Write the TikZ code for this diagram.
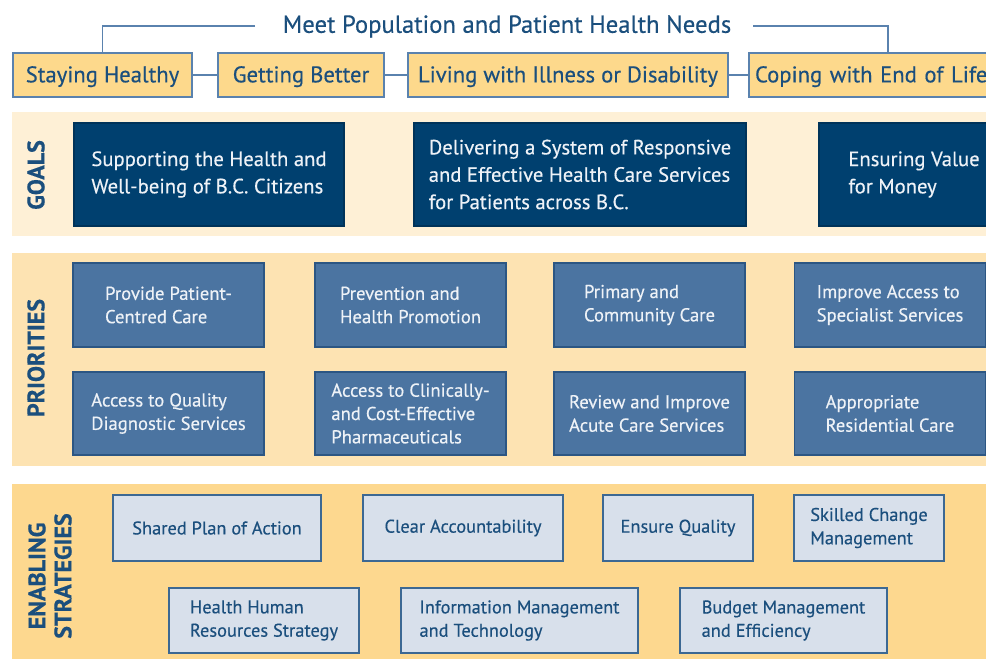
\documentclass[tikz,border=0pt]{standalone}
\usepackage{fontspec}
\setmainfont{PT Sans}[FakeBold=0.35]
\definecolor{tblue}{HTML}{1B4F7D}
\definecolor{topfill}{HTML}{FDD98C}
\definecolor{topdraw}{HTML}{5A82AE}
\definecolor{goalband}{HTML}{FEF0D6}
\definecolor{goalbox}{HTML}{00406F}
\definecolor{prioband}{HTML}{FDE3B2}
\definecolor{priobox}{HTML}{4B74A1}
\definecolor{priodraw}{HTML}{2C5683}
\definecolor{enband}{HTML}{FDD88F}
\definecolor{enbox}{HTML}{D8E0EB}
\definecolor{endraw}{HTML}{3C6893}
\definecolor{ltext}{HTML}{EEF2F7}
\tikzset{
  sz/.style 2 args={minimum width=#1*0.75pt, minimum height=#2*0.75pt, inner sep=0pt},
  topbox/.style={draw=topdraw, fill=topfill, line width=1.2pt, text=tblue, text height=14pt, text depth=3pt, font=\fontsize{17}{20}\selectfont},
  goalbx/.style={fill=goalbox, draw=goalbox!80!black, line width=0.8pt, text=ltext, align=left, font=\fontsize{15.5}{20.5}\selectfont},
  priobx/.style={fill=priobox, draw=priodraw, line width=1pt, text=ltext, align=left, font=\fontsize{14}{17.5}\selectfont},
  enbx/.style={fill=enbox, draw=endraw, line width=1.1pt, text=tblue, align=left, font=\fontsize{13.8}{17.5}\selectfont},
  sidelbl/.style={rotate=90, text=tblue, font=\bfseries\fontsize{18}{19.5}\selectfont, align=center},
  conn/.style={draw=topdraw, line width=1.2pt}
}
\begin{document}
\begin{tikzpicture}[x=0.75pt, y=-0.75pt]
\useasboundingbox (0,0) rectangle (986,659);
\clip (0,0) rectangle (986,659);
\fill[white] (0,0) rectangle (986,659);
% title
\node[text=tblue, font=\fontsize{18.5}{20}\selectfont] (title) at (507,26.5) {Meet Population and Patient Health Needs};
% top boxes
\node[topbox, sz={179}{44}] (sh) at (102.5,75) {Staying Healthy};
\node[topbox, sz={166}{44}] (gb) at (301,75) {Getting Better};
\node[topbox, sz={320}{44}] (lw) at (568,75) {Living with Illness or Disability};
\node[topbox, sz={278}{44}, text width=266*0.75pt, align=left] (ce) at (888,75) {Coping with End of Life};
\coordinate (tl) at (255,26);
\coordinate (tr) at (753,26);
\draw[conn] (tl) -| (sh.north);
\draw[conn] (tr) -| (ce.north);
\draw[conn] (sh.east) -- (gb.west);
\draw[conn] (gb.east) -- (lw.west);
\draw[conn] (lw.east) -- (ce.west);
% bands
\fill[goalband] (12,112) rectangle (990,236);
\fill[prioband] (12,253) rectangle (990,466);
\fill[enband] (12,484) rectangle (990,662);
% side labels
\node[sidelbl] (lg) at (36,175) {GOALS};
\node[sidelbl] (lp) at (36,358) {PRIORITIES};
\node[sidelbl] (le) at (50,576) {ENABLING\\STRATEGIES};
% goals
\node[goalbx, sz={270}{103}] (g1) at (209,174.5) {Supporting the Health and\\Well-being of B.C. Citizens};
\node[goalbx, sz={332}{103}] (g2) at (580,174.5) {Delivering a System of Responsive\\and Effective Health Care Services\\for Patients across B.C.};
\node[goalbx, sz={190}{103}] (g3) at (914,174.5) {Ensuring Value\\for Money};
% priorities
\node[priobx, sz={191}{84}] (p1) at (168.5,305) {Provide Patient-\\Centred Care};
\node[priobx, sz={191}{84}] (p2) at (410.5,305) {Prevention and\\Health Promotion};
\node[priobx, sz={191}{84}] (p3) at (649.5,305) {Primary and\\Community Care};
\node[priobx, sz={191}{84}] (p4) at (890,305) {Improve Access to\\Specialist Services};
\node[priobx, sz={191}{83}] (p5) at (168.5,413.5) {Access to Quality\\Diagnostic Services};
\node[priobx, sz={191}{83}] (p6) at (410.5,413.5) {Access to Clinically-\\and Cost-Effective\\Pharmaceuticals};
\node[priobx, sz={191}{83}] (p7) at (649.5,413.5) {Review and Improve\\Acute Care Services};
\node[priobx, sz={191}{83}] (p8) at (890,413.5) {Appropriate\\Residential Care};
% enabling strategies
\node[enbx, sz={208}{66}] (e1) at (217,528) {Shared Plan of Action};
\node[enbx, sz={200}{66}] (e2) at (463,528) {Clear Accountability};
\node[enbx, sz={150}{66}] (e3) at (678,528) {Ensure Quality};
\node[enbx, sz={150}{66}] (e4) at (869,528) {Skilled Change\\Management};
\node[enbx, sz={190}{65}] (e5) at (264,620.5) {Health Human\\Resources Strategy};
\node[enbx, sz={237}{65}] (e6) at (519.5,620.5) {Information Management\\and Technology};
\node[enbx, sz={207}{65}] (e7) at (783.5,620.5) {Budget Management\\and Efficiency};
\end{tikzpicture}
\end{document}
